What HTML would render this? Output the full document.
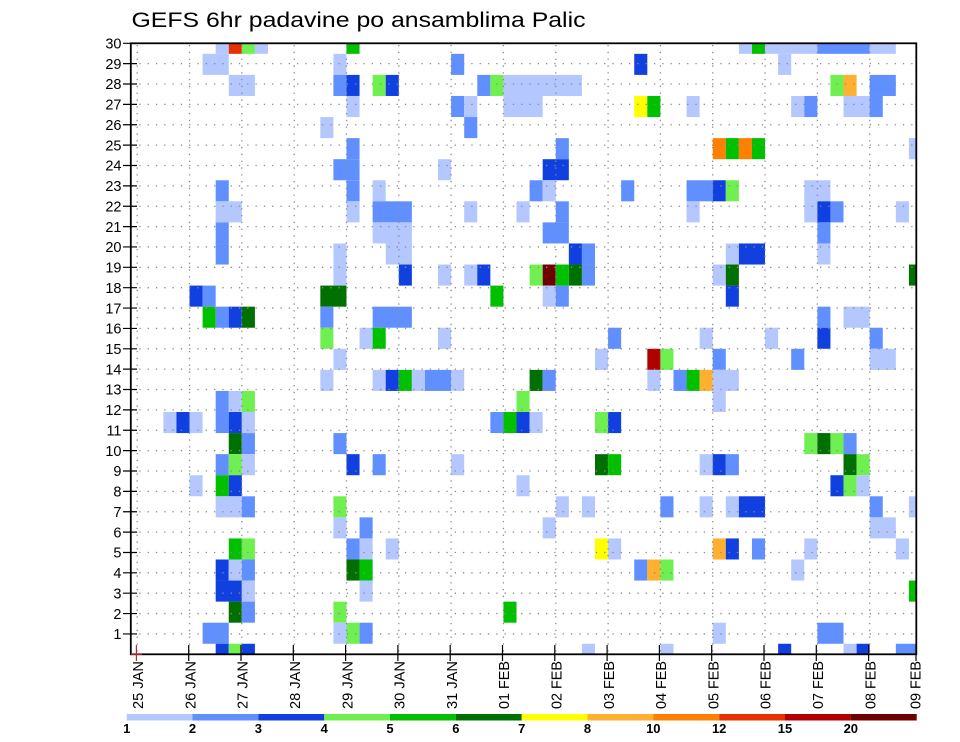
<!DOCTYPE html>
<html><head><meta charset="utf-8"><style>
html,body{margin:0;padding:0;background:#fff;}
svg{display:block;}
.a{fill:#b4c8ff}.b{fill:#6090ff}.c{fill:#1040e0}.d{fill:#70f050}.e{fill:#00c000}.f{fill:#007000}
.g{fill:#ffff00}.h{fill:#ffb030}.i{fill:#ff8000}.k{fill:#e83000}.l{fill:#b00000}.n{fill:#6e0000}
text{font-family:"Liberation Sans",sans-serif;fill:#000;}
</style></head><body>
<svg width="960" height="742" viewBox="0 0 960 742" xmlns="http://www.w3.org/2000/svg">
<defs><clipPath id="cp"><rect x="130.8" y="43.3" width="785.5" height="611"/></clipPath></defs>
<text x="131.5" y="27" font-size="21" textLength="454" lengthAdjust="spacingAndGlyphs">GEFS 6hr padavine po ansamblima Palic</text>
<g clip-path="url(#cp)">
<g transform="translate(137.2,643.77) scale(13.08,21.069)">
<rect class="a" x="6" y="-29" width="1" height="1"/><rect class="k" x="7" y="-29" width="1" height="1"/><rect class="d" x="8" y="-29" width="1" height="1"/><rect class="a" x="9" y="-29" width="1" height="1"/><rect class="e" x="16" y="-29" width="1" height="1"/><rect class="a" x="46" y="-29" width="1" height="1"/><rect class="e" x="47" y="-29" width="1" height="1"/><rect class="a" x="48" y="-29" width="4" height="1"/><rect class="b" x="52" y="-29" width="4" height="1"/><rect class="a" x="56" y="-29" width="2" height="1"/>
<rect class="a" x="5" y="-28" width="2" height="1"/><rect class="a" x="15" y="-28" width="1" height="1"/><rect class="b" x="24" y="-28" width="1" height="1"/><rect class="c" x="38" y="-28" width="1" height="1"/><rect class="a" x="49" y="-28" width="1" height="1"/>
<rect class="a" x="7" y="-27" width="2" height="1"/><rect class="b" x="15" y="-27" width="1" height="1"/><rect class="c" x="16" y="-27" width="1" height="1"/><rect class="d" x="18" y="-27" width="1" height="1"/><rect class="c" x="19" y="-27" width="1" height="1"/><rect class="b" x="26" y="-27" width="1" height="1"/><rect class="d" x="27" y="-27" width="1" height="1"/><rect class="a" x="28" y="-27" width="6" height="1"/><rect class="d" x="53" y="-27" width="1" height="1"/><rect class="h" x="54" y="-27" width="1" height="1"/><rect class="b" x="56" y="-27" width="2" height="1"/>
<rect class="a" x="16" y="-26" width="1" height="1"/><rect class="b" x="24" y="-26" width="1" height="1"/><rect class="a" x="25" y="-26" width="1" height="1"/><rect class="a" x="28" y="-26" width="3" height="1"/><rect class="g" x="38" y="-26" width="1" height="1"/><rect class="e" x="39" y="-26" width="1" height="1"/><rect class="a" x="42" y="-26" width="1" height="1"/><rect class="a" x="50" y="-26" width="1" height="1"/><rect class="b" x="51" y="-26" width="1" height="1"/><rect class="a" x="54" y="-26" width="2" height="1"/><rect class="b" x="56" y="-26" width="1" height="1"/>
<rect class="a" x="14" y="-25" width="1" height="1"/><rect class="b" x="25" y="-25" width="1" height="1"/>
<rect class="b" x="16" y="-24" width="1" height="1"/><rect class="b" x="32" y="-24" width="1" height="1"/><rect class="i" x="44" y="-24" width="1" height="1"/><rect class="e" x="45" y="-24" width="1" height="1"/><rect class="i" x="46" y="-24" width="1" height="1"/><rect class="e" x="47" y="-24" width="1" height="1"/><rect class="a" x="59" y="-24" width="1" height="1"/>
<rect class="b" x="15" y="-23" width="2" height="1"/><rect class="a" x="23" y="-23" width="1" height="1"/><rect class="c" x="31" y="-23" width="2" height="1"/>
<rect class="b" x="6" y="-22" width="1" height="1"/><rect class="b" x="16" y="-22" width="1" height="1"/><rect class="a" x="18" y="-22" width="1" height="1"/><rect class="b" x="30" y="-22" width="1" height="1"/><rect class="a" x="31" y="-22" width="1" height="1"/><rect class="b" x="37" y="-22" width="1" height="1"/><rect class="b" x="42" y="-22" width="2" height="1"/><rect class="c" x="44" y="-22" width="1" height="1"/><rect class="d" x="45" y="-22" width="1" height="1"/><rect class="a" x="51" y="-22" width="2" height="1"/>
<rect class="a" x="6" y="-21" width="2" height="1"/><rect class="a" x="16" y="-21" width="1" height="1"/><rect class="b" x="18" y="-21" width="3" height="1"/><rect class="a" x="25" y="-21" width="1" height="1"/><rect class="a" x="29" y="-21" width="1" height="1"/><rect class="b" x="32" y="-21" width="1" height="1"/><rect class="a" x="42" y="-21" width="1" height="1"/><rect class="a" x="51" y="-21" width="1" height="1"/><rect class="c" x="52" y="-21" width="1" height="1"/><rect class="b" x="53" y="-21" width="1" height="1"/><rect class="a" x="58" y="-21" width="1" height="1"/>
<rect class="b" x="6" y="-20" width="1" height="1"/><rect class="a" x="18" y="-20" width="3" height="1"/><rect class="b" x="31" y="-20" width="2" height="1"/><rect class="b" x="52" y="-20" width="1" height="1"/>
<rect class="b" x="6" y="-19" width="1" height="1"/><rect class="a" x="15" y="-19" width="1" height="1"/><rect class="a" x="19" y="-19" width="2" height="1"/><rect class="c" x="33" y="-19" width="1" height="1"/><rect class="b" x="34" y="-19" width="1" height="1"/><rect class="a" x="45" y="-19" width="1" height="1"/><rect class="c" x="46" y="-19" width="2" height="1"/><rect class="a" x="52" y="-19" width="1" height="1"/>
<rect class="a" x="15" y="-18" width="1" height="1"/><rect class="c" x="20" y="-18" width="1" height="1"/><rect class="a" x="23" y="-18" width="1" height="1"/><rect class="a" x="25" y="-18" width="1" height="1"/><rect class="c" x="26" y="-18" width="1" height="1"/><rect class="d" x="30" y="-18" width="1" height="1"/><rect class="n" x="31" y="-18" width="1" height="1"/><rect class="e" x="32" y="-18" width="1" height="1"/><rect class="f" x="33" y="-18" width="1" height="1"/><rect class="b" x="34" y="-18" width="1" height="1"/><rect class="a" x="44" y="-18" width="1" height="1"/><rect class="f" x="45" y="-18" width="1" height="1"/><rect class="f" x="59" y="-18" width="1" height="1"/>
<rect class="c" x="4" y="-17" width="1" height="1"/><rect class="b" x="5" y="-17" width="1" height="1"/><rect class="f" x="14" y="-17" width="2" height="1"/><rect class="e" x="27" y="-17" width="1" height="1"/><rect class="a" x="31" y="-17" width="1" height="1"/><rect class="b" x="32" y="-17" width="1" height="1"/><rect class="c" x="45" y="-17" width="1" height="1"/>
<rect class="e" x="5" y="-16" width="1" height="1"/><rect class="b" x="6" y="-16" width="1" height="1"/><rect class="c" x="7" y="-16" width="1" height="1"/><rect class="f" x="8" y="-16" width="1" height="1"/><rect class="b" x="14" y="-16" width="1" height="1"/><rect class="b" x="18" y="-16" width="3" height="1"/><rect class="b" x="52" y="-16" width="1" height="1"/><rect class="a" x="54" y="-16" width="2" height="1"/>
<rect class="d" x="14" y="-15" width="1" height="1"/><rect class="a" x="17" y="-15" width="1" height="1"/><rect class="e" x="18" y="-15" width="1" height="1"/><rect class="a" x="23" y="-15" width="1" height="1"/><rect class="b" x="36" y="-15" width="1" height="1"/><rect class="a" x="43" y="-15" width="1" height="1"/><rect class="a" x="48" y="-15" width="1" height="1"/><rect class="c" x="52" y="-15" width="1" height="1"/><rect class="b" x="56" y="-15" width="1" height="1"/>
<rect class="a" x="15" y="-14" width="1" height="1"/><rect class="a" x="35" y="-14" width="1" height="1"/><rect class="l" x="39" y="-14" width="1" height="1"/><rect class="d" x="40" y="-14" width="1" height="1"/><rect class="b" x="44" y="-14" width="1" height="1"/><rect class="b" x="50" y="-14" width="1" height="1"/><rect class="a" x="56" y="-14" width="2" height="1"/>
<rect class="a" x="14" y="-13" width="1" height="1"/><rect class="a" x="18" y="-13" width="1" height="1"/><rect class="c" x="19" y="-13" width="1" height="1"/><rect class="e" x="20" y="-13" width="1" height="1"/><rect class="a" x="21" y="-13" width="1" height="1"/><rect class="b" x="22" y="-13" width="2" height="1"/><rect class="a" x="24" y="-13" width="1" height="1"/><rect class="f" x="30" y="-13" width="1" height="1"/><rect class="b" x="31" y="-13" width="1" height="1"/><rect class="a" x="39" y="-13" width="1" height="1"/><rect class="b" x="41" y="-13" width="1" height="1"/><rect class="e" x="42" y="-13" width="1" height="1"/><rect class="h" x="43" y="-13" width="1" height="1"/><rect class="a" x="44" y="-13" width="2" height="1"/>
<rect class="b" x="6" y="-12" width="1" height="1"/><rect class="a" x="7" y="-12" width="1" height="1"/><rect class="d" x="8" y="-12" width="1" height="1"/><rect class="d" x="29" y="-12" width="1" height="1"/><rect class="a" x="44" y="-12" width="1" height="1"/>
<rect class="a" x="2" y="-11" width="1" height="1"/><rect class="c" x="3" y="-11" width="1" height="1"/><rect class="a" x="4" y="-11" width="1" height="1"/><rect class="b" x="6" y="-11" width="1" height="1"/><rect class="c" x="7" y="-11" width="1" height="1"/><rect class="a" x="8" y="-11" width="1" height="1"/><rect class="b" x="27" y="-11" width="1" height="1"/><rect class="e" x="28" y="-11" width="1" height="1"/><rect class="c" x="29" y="-11" width="1" height="1"/><rect class="a" x="30" y="-11" width="1" height="1"/><rect class="d" x="35" y="-11" width="1" height="1"/><rect class="c" x="36" y="-11" width="1" height="1"/>
<rect class="f" x="7" y="-10" width="1" height="1"/><rect class="b" x="8" y="-10" width="1" height="1"/><rect class="b" x="15" y="-10" width="1" height="1"/><rect class="d" x="51" y="-10" width="1" height="1"/><rect class="f" x="52" y="-10" width="1" height="1"/><rect class="d" x="53" y="-10" width="1" height="1"/><rect class="b" x="54" y="-10" width="1" height="1"/>
<rect class="b" x="6" y="-9" width="1" height="1"/><rect class="d" x="7" y="-9" width="1" height="1"/><rect class="a" x="8" y="-9" width="1" height="1"/><rect class="c" x="16" y="-9" width="1" height="1"/><rect class="b" x="18" y="-9" width="1" height="1"/><rect class="a" x="24" y="-9" width="1" height="1"/><rect class="f" x="35" y="-9" width="1" height="1"/><rect class="e" x="36" y="-9" width="1" height="1"/><rect class="a" x="43" y="-9" width="1" height="1"/><rect class="c" x="44" y="-9" width="1" height="1"/><rect class="b" x="45" y="-9" width="1" height="1"/><rect class="f" x="54" y="-9" width="1" height="1"/><rect class="d" x="55" y="-9" width="1" height="1"/>
<rect class="a" x="4" y="-8" width="1" height="1"/><rect class="e" x="6" y="-8" width="1" height="1"/><rect class="c" x="7" y="-8" width="1" height="1"/><rect class="a" x="29" y="-8" width="1" height="1"/><rect class="c" x="53" y="-8" width="1" height="1"/><rect class="d" x="54" y="-8" width="1" height="1"/><rect class="a" x="55" y="-8" width="1" height="1"/>
<rect class="a" x="6" y="-7" width="2" height="1"/><rect class="b" x="8" y="-7" width="1" height="1"/><rect class="d" x="15" y="-7" width="1" height="1"/><rect class="a" x="32" y="-7" width="1" height="1"/><rect class="a" x="34" y="-7" width="1" height="1"/><rect class="b" x="40" y="-7" width="1" height="1"/><rect class="a" x="43" y="-7" width="1" height="1"/><rect class="a" x="45" y="-7" width="1" height="1"/><rect class="c" x="46" y="-7" width="2" height="1"/><rect class="b" x="56" y="-7" width="1" height="1"/><rect class="a" x="59" y="-7" width="1" height="1"/>
<rect class="a" x="15" y="-6" width="1" height="1"/><rect class="b" x="17" y="-6" width="1" height="1"/><rect class="a" x="31" y="-6" width="1" height="1"/><rect class="a" x="56" y="-6" width="2" height="1"/>
<rect class="e" x="7" y="-5" width="1" height="1"/><rect class="d" x="8" y="-5" width="1" height="1"/><rect class="b" x="16" y="-5" width="1" height="1"/><rect class="a" x="17" y="-5" width="1" height="1"/><rect class="a" x="19" y="-5" width="1" height="1"/><rect class="g" x="35" y="-5" width="1" height="1"/><rect class="a" x="36" y="-5" width="1" height="1"/><rect class="h" x="44" y="-5" width="1" height="1"/><rect class="c" x="45" y="-5" width="1" height="1"/><rect class="b" x="47" y="-5" width="1" height="1"/><rect class="a" x="51" y="-5" width="1" height="1"/><rect class="a" x="58" y="-5" width="1" height="1"/>
<rect class="c" x="6" y="-4" width="1" height="1"/><rect class="a" x="7" y="-4" width="1" height="1"/><rect class="b" x="8" y="-4" width="1" height="1"/><rect class="f" x="16" y="-4" width="1" height="1"/><rect class="e" x="17" y="-4" width="1" height="1"/><rect class="b" x="38" y="-4" width="1" height="1"/><rect class="h" x="39" y="-4" width="1" height="1"/><rect class="d" x="40" y="-4" width="1" height="1"/><rect class="a" x="50" y="-4" width="1" height="1"/>
<rect class="c" x="6" y="-3" width="2" height="1"/><rect class="a" x="8" y="-3" width="1" height="1"/><rect class="a" x="17" y="-3" width="1" height="1"/><rect class="e" x="59" y="-3" width="1" height="1"/>
<rect class="f" x="7" y="-2" width="1" height="1"/><rect class="b" x="8" y="-2" width="1" height="1"/><rect class="d" x="15" y="-2" width="1" height="1"/><rect class="e" x="28" y="-2" width="1" height="1"/>
<rect class="b" x="5" y="-1" width="2" height="1"/><rect class="a" x="15" y="-1" width="1" height="1"/><rect class="d" x="16" y="-1" width="1" height="1"/><rect class="b" x="17" y="-1" width="1" height="1"/><rect class="a" x="44" y="-1" width="1" height="1"/><rect class="b" x="52" y="-1" width="2" height="1"/>
<rect class="c" x="6" y="0" width="1" height="1"/><rect class="d" x="7" y="0" width="1" height="1"/><rect class="c" x="8" y="0" width="1" height="1"/><rect class="a" x="34" y="0" width="1" height="1"/><rect class="a" x="40" y="0" width="1" height="1"/><rect class="c" x="49" y="0" width="1" height="1"/><rect class="a" x="54" y="0" width="1" height="1"/><rect class="c" x="55" y="0" width="1" height="1"/><rect class="b" x="58" y="0" width="2" height="1"/>
</g>
<g stroke="#8a8a8a" stroke-width="1.3" stroke-dasharray="1.3 7" fill="none">
<path d="M131 633.93H916M131 613.57H916M131 593.2H916M131 572.83H916M131 552.47H916M131 532.1H916M131 511.73H916M131 491.37H916M131 471H916M131 450.63H916M131 430.26H916M131 409.9H916M131 389.53H916M131 369.16H916M131 348.8H916M131 328.43H916M131 308.06H916M131 287.7H916M131 267.33H916M131 246.96H916M131 226.6H916M131 206.23H916M131 185.86H916M131 165.5H916M131 145.13H916M131 124.76H916M131 104.4H916M131 84.03H916M131 63.66H916"/>
</g>
<g stroke="#8a8a8a" stroke-width="1.3" stroke-dasharray="1.3 5.5" fill="none">
<path d="M137.2 45V654M189.5 45V654M241.8 45V654M294.2 45V654M346.5 45V654M398.8 45V654M451.1 45V654M503.4 45V654M555.8 45V654M608.1 45V654M660.4 45V654M712.7 45V654M765 45V654M817.4 45V654M869.7 45V654"/>
</g>
</g>
<rect x="130.8" y="43.3" width="785.5" height="611" fill="none" stroke="#000" stroke-width="1.8"/>
<g stroke="#000" stroke-width="1.2">
<path d="M123 633.93H137M123 613.57H137M123 593.2H137M123 572.83H137M123 552.47H137M123 532.1H137M123 511.73H137M123 491.37H137M123 471H137M123 450.63H137M123 430.26H137M123 409.9H137M123 389.53H137M123 369.16H137M123 348.8H137M123 328.43H137M123 308.06H137M123 287.7H137M123 267.33H137M123 246.96H137M123 226.6H137M123 206.23H137M123 185.86H137M123 165.5H137M123 145.13H137M123 124.76H137M123 104.4H137M123 84.03H137M123 63.66H137M123 43.3H137"/>
</g>
<g stroke="#000" stroke-width="1.2">
<path d="M188.7 645V661M241 645V661M293.3 645V661M345.6 645V661M397.9 645V661M450.2 645V661M502.5 645V661M554.8 645V661M607.1 645V661M659.4 645V661M711.7 645V661M764 645V661M816.3 645V661M868.6 645V661M916 645V661"/>
</g>
<path d="M136.4 645V661M131 654.3H142" stroke="#b03030" stroke-width="1.2"/>
<g font-size="14.5" text-anchor="end">
<text x="121.5" y="639.1">1</text><text x="121.5" y="618.8">2</text><text x="121.5" y="598.4">3</text><text x="121.5" y="578">4</text><text x="121.5" y="557.7">5</text><text x="121.5" y="537.3">6</text><text x="121.5" y="516.9">7</text><text x="121.5" y="496.6">8</text><text x="121.5" y="476.2">9</text><text x="121.5" y="455.8">10</text><text x="121.5" y="435.5">11</text><text x="121.5" y="415.1">12</text><text x="121.5" y="394.7">13</text><text x="121.5" y="374.4">14</text><text x="121.5" y="354">15</text><text x="121.5" y="333.6">16</text><text x="121.5" y="313.3">17</text><text x="121.5" y="292.9">18</text><text x="121.5" y="272.5">19</text><text x="121.5" y="252.2">20</text><text x="121.5" y="231.8">21</text><text x="121.5" y="211.4">22</text><text x="121.5" y="191.1">23</text><text x="121.5" y="170.7">24</text><text x="121.5" y="150.3">25</text><text x="121.5" y="130">26</text><text x="121.5" y="109.6">27</text><text x="121.5" y="89.2">28</text><text x="121.5" y="68.9">29</text><text x="121.5" y="48.5">30</text>
</g>
<g font-size="15">
<text transform="translate(143.1,709) rotate(-90)" textLength="48" lengthAdjust="spacingAndGlyphs">25 JAN</text>
<text transform="translate(195.4,709) rotate(-90)" textLength="48" lengthAdjust="spacingAndGlyphs">26 JAN</text>
<text transform="translate(247.7,709) rotate(-90)" textLength="48" lengthAdjust="spacingAndGlyphs">27 JAN</text>
<text transform="translate(300,709) rotate(-90)" textLength="48" lengthAdjust="spacingAndGlyphs">28 JAN</text>
<text transform="translate(352.3,709) rotate(-90)" textLength="48" lengthAdjust="spacingAndGlyphs">29 JAN</text>
<text transform="translate(404.6,709) rotate(-90)" textLength="48" lengthAdjust="spacingAndGlyphs">30 JAN</text>
<text transform="translate(456.9,709) rotate(-90)" textLength="48" lengthAdjust="spacingAndGlyphs">31 JAN</text>
<text transform="translate(509.2,709) rotate(-90)" textLength="48" lengthAdjust="spacingAndGlyphs">01 FEB</text>
<text transform="translate(561.5,709) rotate(-90)" textLength="48" lengthAdjust="spacingAndGlyphs">02 FEB</text>
<text transform="translate(613.8,709) rotate(-90)" textLength="48" lengthAdjust="spacingAndGlyphs">03 FEB</text>
<text transform="translate(666.1,709) rotate(-90)" textLength="48" lengthAdjust="spacingAndGlyphs">04 FEB</text>
<text transform="translate(718.4,709) rotate(-90)" textLength="48" lengthAdjust="spacingAndGlyphs">05 FEB</text>
<text transform="translate(770.7,709) rotate(-90)" textLength="48" lengthAdjust="spacingAndGlyphs">06 FEB</text>
<text transform="translate(823,709) rotate(-90)" textLength="48" lengthAdjust="spacingAndGlyphs">07 FEB</text>
<text transform="translate(875.3,709) rotate(-90)" textLength="48" lengthAdjust="spacingAndGlyphs">08 FEB</text>
<text transform="translate(920.5,709) rotate(-90)" textLength="48" lengthAdjust="spacingAndGlyphs">09 FEB</text>
</g>
<g>
<rect x="126.7" y="714" width="65.9" height="6.5" fill="#b4c8ff"/>
<rect x="192.5" y="714" width="65.9" height="6.5" fill="#6090ff"/>
<rect x="258.4" y="714" width="65.9" height="6.5" fill="#1040e0"/>
<rect x="324.2" y="714" width="65.9" height="6.5" fill="#70f050"/>
<rect x="390" y="714" width="65.9" height="6.5" fill="#00c000"/>
<rect x="455.9" y="714" width="65.9" height="6.5" fill="#007000"/>
<rect x="521.7" y="714" width="65.9" height="6.5" fill="#ffff00"/>
<rect x="587.5" y="714" width="65.9" height="6.5" fill="#ffb030"/>
<rect x="653.3" y="714" width="65.9" height="6.5" fill="#ff8000"/>
<rect x="719.2" y="714" width="65.9" height="6.5" fill="#e83000"/>
<rect x="785" y="714" width="65.9" height="6.5" fill="#b00000"/>
<rect x="850.8" y="714" width="65.9" height="6.5" fill="#6e0000"/>
</g>
<g font-size="13" font-weight="bold" text-anchor="middle">
<text x="126.7" y="733">1</text><text x="192.5" y="733">2</text><text x="258.4" y="733">3</text><text x="324.2" y="733">4</text><text x="390" y="733">5</text><text x="455.9" y="733">6</text><text x="521.7" y="733">7</text><text x="587.5" y="733">8</text><text x="653.3" y="733">10</text><text x="719.2" y="733">12</text><text x="785" y="733">15</text><text x="850.8" y="733">20</text>
</g>
</svg>
</body></html>
